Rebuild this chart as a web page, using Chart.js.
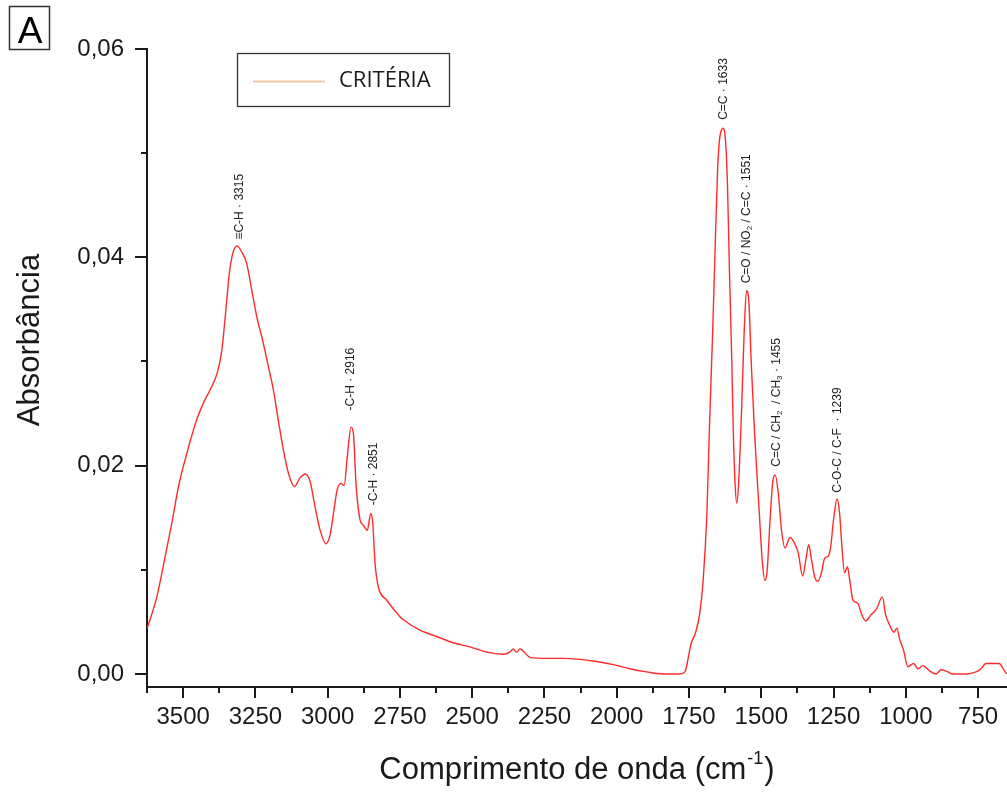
<!DOCTYPE html>
<html>
<head>
<meta charset="utf-8">
<script src="https://cdn.jsdelivr.net/npm/chart.js@4.4.1/dist/chart.umd.min.js"></script>
<style>
  html, body { margin: 0; padding: 0; background: #ffffff; }
  canvas { display: block; }
</style>
</head>
<body>
<canvas id="c" width="1007" height="792"></canvas>
<script>
// ---- data ----
const wavenumber = [
  3624, 3591, 3562, 3539, 3516, 3487, 3453, 3430, 3401, 3381, 3366, 3351, 3340, 3328, 3314,
  3297, 3280, 3263, 3243, 3228, 3205, 3188, 3171, 3153, 3136, 3115, 3096, 3078, 3061, 3044,
  3026, 3006, 2992, 2980, 2967, 2954, 2943, 2932, 2919, 2911, 2902, 2888, 2877, 2863, 2851,
  2844, 2836, 2825, 2796, 2750, 2738, 2681, 2623, 2566, 2508, 2450, 2393, 2370, 2358, 2346,
  2335, 2300, 2243, 2185, 2128, 2070, 2012, 1955, 1897, 1840, 1782, 1764, 1755, 1744, 1727,
  1713, 1701, 1688, 1679, 1668, 1659, 1651, 1645, 1638, 1633, 1625, 1617, 1610, 1602, 1597,
  1591, 1585, 1578, 1568, 1559, 1551, 1543, 1535, 1523, 1508, 1497, 1488, 1480, 1469, 1460,
  1452, 1441, 1430, 1418, 1401, 1384, 1372, 1357, 1346, 1336, 1327, 1315, 1304, 1292, 1281,
  1269, 1260, 1250, 1238, 1229, 1221, 1212, 1202, 1194, 1183, 1166, 1154, 1139, 1120, 1102,
  1081, 1070, 1056, 1041, 1031, 1021, 1008, 993, 973, 958, 941, 918, 895, 878, 855,
  838, 791, 757, 740, 723, 700, 677, 663, 652
];
const absorbance = [
  0.0044, 0.0074, 0.0113, 0.0145, 0.0180, 0.0212, 0.0244, 0.0260, 0.0276, 0.0290, 0.0311, 0.0353, 0.0385, 0.0404, 0.0411,
  0.0405, 0.0394, 0.0369, 0.0340, 0.0324, 0.0295, 0.0273, 0.0244, 0.0215, 0.0193, 0.0180, 0.0188, 0.0192, 0.0185, 0.0161,
  0.0138, 0.0125, 0.0133, 0.0154, 0.0177, 0.0183, 0.0181, 0.0209, 0.0237, 0.0231, 0.0183, 0.0148, 0.0143, 0.0138, 0.0154,
  0.0145, 0.0106, 0.0084, 0.0071, 0.0055, 0.0052, 0.0042, 0.0036, 0.0030, 0.0026, 0.0021, 0.0019, 0.0021, 0.0024, 0.0021,
  0.0024, 0.0016, 0.0015, 0.0015, 0.0014, 0.0012, 0.0009, 0.0005, 0.0002, 0.0000, 0.0000, 0.0002, 0.0012, 0.0028, 0.0040,
  0.0058, 0.0090, 0.0155, 0.0240, 0.0330, 0.0415, 0.0485, 0.0512, 0.0522, 0.0524, 0.0516, 0.0470, 0.0385, 0.0300, 0.0235,
  0.0185, 0.0164, 0.0185, 0.0255, 0.0330, 0.0368, 0.0358, 0.0300, 0.0230, 0.0160, 0.0110, 0.0090, 0.0098, 0.0151, 0.0185,
  0.0191, 0.0173, 0.0138, 0.0121, 0.0131, 0.0125, 0.0116, 0.0094, 0.0109, 0.0124, 0.0111, 0.0093, 0.0089, 0.0097, 0.0111,
  0.0113, 0.0122, 0.0148, 0.0168, 0.0154, 0.0122, 0.0097, 0.0103, 0.0090, 0.0071, 0.0068, 0.0058, 0.0051, 0.0057, 0.0062,
  0.0074, 0.0057, 0.0047, 0.0040, 0.0044, 0.0033, 0.0023, 0.0007, 0.0010, 0.0005, 0.0008, 0.0003, 0.0000, 0.0004, 0.0002,
  0.0000, 0.0000, 0.0002, 0.0005, 0.0010, 0.0010, 0.0010, 0.0005, 0.0000
];
const seriesName = 'CRITÉRIA';
const xTickLabels = [3500, 3250, 3000, 2750, 2500, 2250, 2000, 1750, 1500, 1250, 1000, 750];
const yTickLabels = [0.00, 0.02, 0.04, 0.06];
const xTitle = 'Comprimento de onda (cm';
const xTitleSup = '-1';
const yTitle = 'Absorbância';
const panelLetter = 'A';

// peak labels: anchor wavenumber, absorbance where the text starts, text parts [text, subscript?]
const peakWavenumber = [3305, 2919, 2842, 1629, 1549, 1448, 1235];
const peakLabelBase = [0.0417, 0.0253, 0.0162, 0.0532, 0.0375, 0.0199, 0.0174];
const peakLabelText = [
  [['≡C-H · 3315', false]],
  [['-C-H · 2916', false]],
  [['-C-H · 2851', false]],
  [['C=C · 1633', false]],
  [['C=O / NO', false], ['2', true], [' / C=C · 1551', false]],
  [['C=C / CH', false], ['2', true], ['  / CH', false], ['3', true], [' · 1455', false]],
  [['C-O-C / C-F  · 1239', false]]
];

// ---- derived ticks ----
const xMin = 650, xMax = 3625;
const yMin = -0.00125, yMax = 0.06;
const xMinorTicks = [];
xTickLabels.forEach(v => { [v + 125, v - 125].forEach(m => { if (m >= xMin && m <= xMax && !xMinorTicks.includes(m)) xMinorTicks.push(m); }); });
const xAllTicks = xTickLabels.concat(xMinorTicks.filter(m => !xTickLabels.includes(m))).sort((a, b) => b - a);
const yMinorTicks = [];
yTickLabels.forEach(v => { [v + 0.01, v - 0.01].forEach(m => { m = Math.round(m * 100) / 100; if (m >= 0 && m <= yMax + 1e-9 && !yMinorTicks.includes(m)) yMinorTicks.push(m); }); });
const yAllTicks = yTickLabels.concat(yMinorTicks.filter(m => !yTickLabels.includes(m))).sort((a, b) => a - b);

const FONT = "'Liberation Sans', Arial, sans-serif";
const INK = '#1a1a1a';

const overlay = {
  id: 'overlay',
  afterDraw(chart) {
    const { ctx, chartArea, scales: { x, y } } = chart;
    ctx.save();
    // tick marks (major longer, minor shorter), outward
    ctx.strokeStyle = INK;
    ctx.lineWidth = 2;
    xAllTicks.forEach(v => {
      const px = Math.round(x.getPixelForValue(v));
      const len = xTickLabels.includes(v) ? 11 : 6;
      ctx.beginPath();
      ctx.moveTo(px, chartArea.bottom);
      ctx.lineTo(px, chartArea.bottom + len);
      ctx.stroke();
    });
    yAllTicks.forEach(v => {
      const py = Math.round(y.getPixelForValue(v));
      const len = yTickLabels.some(t => Math.abs(t - v) < 1e-9) ? 12 : 6;
      ctx.beginPath();
      ctx.moveTo(chartArea.left, py);
      ctx.lineTo(chartArea.left - len, py);
      ctx.stroke();
    });

    // peak labels (rotated)
    ctx.fillStyle = '#222';
    ctx.textBaseline = 'middle';
    ctx.textAlign = 'left';
    peakWavenumber.forEach((wn, i) => {
      const px = x.getPixelForValue(wn);
      const py = y.getPixelForValue(peakLabelBase[i]);
      ctx.save();
      ctx.translate(px, py);
      ctx.rotate(-Math.PI / 2);
      let cx = 0;
      peakLabelText[i].forEach(([t, sub]) => {
        ctx.font = (sub ? '8px ' : '12px ') + FONT;
        ctx.fillText(t, cx, sub ? 3 : 0);
        cx += ctx.measureText(t).width;
      });
      ctx.restore();
    });

    // legend box
    ctx.lineWidth = 1.3;
    ctx.strokeStyle = '#333';
    ctx.fillStyle = '#fff';
    ctx.fillRect(237.5, 53.5, 212, 53);
    ctx.strokeRect(237.5, 53.5, 212, 53);
    ctx.strokeStyle = '#f5c4ad';
    ctx.lineWidth = 2;
    ctx.beginPath();
    ctx.moveTo(253, 81.5);
    ctx.lineTo(325, 81.5);
    ctx.stroke();
    ctx.fillStyle = INK;
    ctx.font = "22px 'Open Sans', sans-serif";
    ctx.textBaseline = 'middle';
    ctx.textAlign = 'left';
    ctx.fillText(chart.data.datasets[0].label, 339, 81);

    // panel letter
    ctx.strokeStyle = '#333';
    ctx.lineWidth = 1.5;
    ctx.strokeRect(9.5, 6.5, 40, 43);
    ctx.fillStyle = '#000';
    ctx.font = '37px ' + FONT;
    ctx.textAlign = 'center';
    ctx.textBaseline = 'alphabetic';
    ctx.fillText(panelLetter, 30, 43);

    // x title with superscript
    ctx.fillStyle = INK;
    ctx.textAlign = 'left';
    ctx.font = '31px ' + FONT;
    const w1 = ctx.measureText(xTitle).width;
    ctx.font = '18px ' + FONT;
    const w2 = ctx.measureText(xTitleSup).width;
    ctx.font = '31px ' + FONT;
    const w3 = ctx.measureText(')').width;
    const total = w1 + w2 + w3 + 2;
    const sx = 577 - total / 2;
    ctx.fillText(xTitle, sx, 779);
    ctx.font = '18px ' + FONT;
    ctx.fillText(xTitleSup, sx + w1 + 1, 764);
    ctx.font = '31px ' + FONT;
    ctx.fillText(')', sx + w1 + w2 + 2, 779);

    // y title
    ctx.save();
    ctx.translate(39, 340);
    ctx.rotate(-Math.PI / 2);
    ctx.textAlign = 'center';
    ctx.textBaseline = 'alphabetic';
    ctx.font = '31px ' + FONT;
    ctx.fillText(yTitle, 0, 0);
    ctx.restore();

    ctx.restore();
  }
};

new Chart(document.getElementById('c'), {
  type: 'line',
  data: {
    datasets: [{
      label: seriesName,
      data: wavenumber.map((w, i) => ({ x: w, y: absorbance[i] })),
      borderColor: '#ff2a2a',
      borderWidth: 1.4,
      pointRadius: 0,
      fill: false,
      cubicInterpolationMode: 'monotone'
    }]
  },
  options: {
    responsive: false,
    animation: false,
    devicePixelRatio: 1,
    layout: { padding: { top: 49, left: 0, right: 0, bottom: 0 } },
    plugins: { legend: { display: false }, tooltip: { enabled: false }, title: { display: false } },
    scales: {
      x: {
        type: 'linear',
        reverse: true,
        min: xMin,
        max: xMax,
        afterBuildTicks: s => { s.ticks = xAllTicks.map(v => ({ value: v })); },
        afterFit: s => { s.height = 105; },
        grid: { display: true, drawOnChartArea: false, drawTicks: true, tickLength: 11, color: 'rgba(0,0,0,0)' },
        border: { display: true, color: INK, width: 2 },
        ticks: {
          autoSkip: false, maxRotation: 0, minRotation: 0, padding: 5,
          color: INK, font: { family: FONT, size: 24 },
          callback: v => xTickLabels.includes(v) ? String(v) : ''
        }
      },
      y: {
        type: 'linear',
        min: yMin,
        max: yMax,
        afterBuildTicks: s => { s.ticks = yAllTicks.map(v => ({ value: v })); },
        afterFit: s => { s.width = 147; },
        grid: { display: true, drawOnChartArea: false, drawTicks: true, tickLength: 12, color: 'rgba(0,0,0,0)' },
        border: { display: true, color: INK, width: 2 },
        ticks: {
          autoSkip: false, padding: 11,
          color: INK, font: { family: FONT, size: 24 },
          callback: v => yTickLabels.some(t => Math.abs(t - v) < 1e-9) ? v.toFixed(2).replace('.', ',') : ''
        }
      }
    }
  },
  plugins: [overlay]
});
</script>
</body>
</html>
